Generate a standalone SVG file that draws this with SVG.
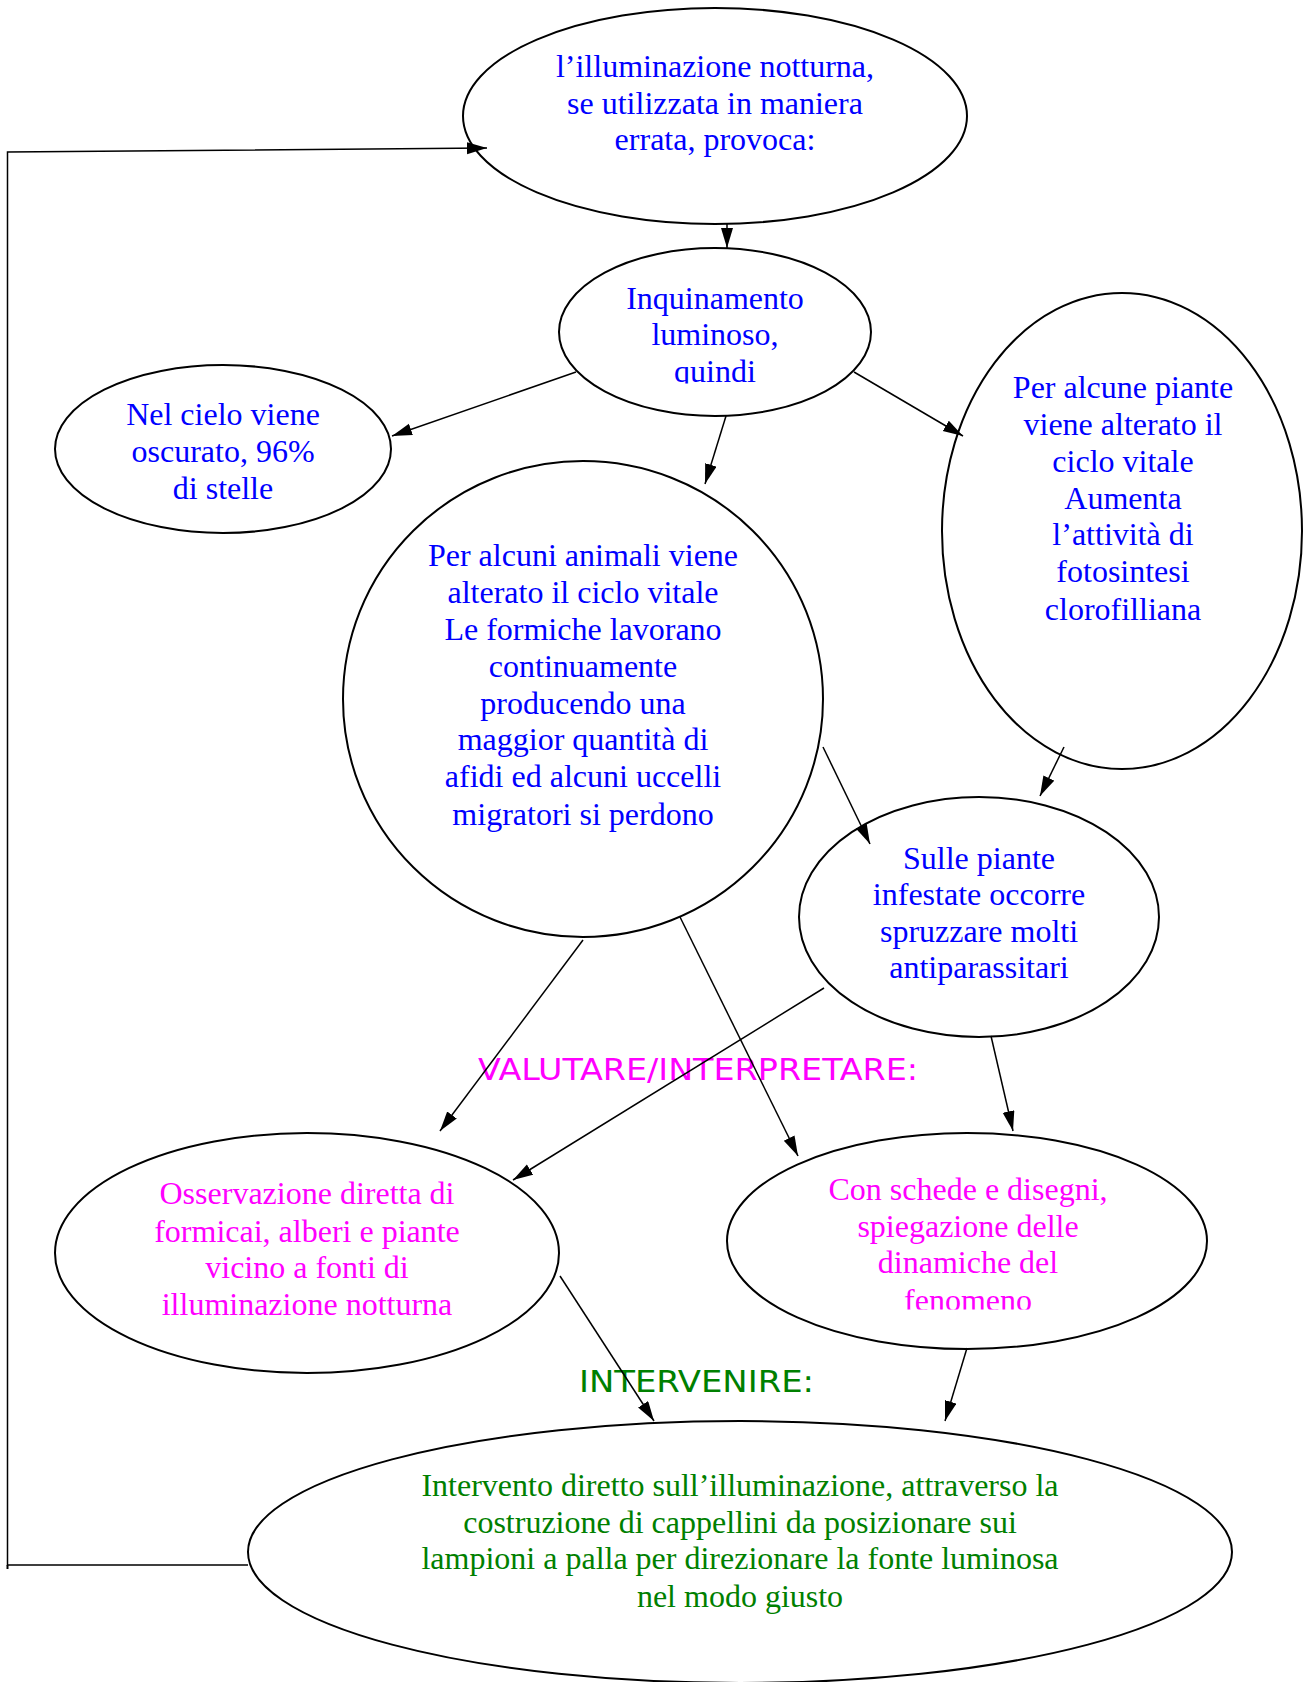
<svg xmlns="http://www.w3.org/2000/svg" width="1303" height="1682" viewBox="0 0 1303 1682">
<style>
.n{fill:#fff;stroke:#000;stroke-width:2}
.t{font-family:"Liberation Serif","Times New Roman",serif;font-size:32px;text-anchor:middle}
.b{fill:#0000ff}.m{fill:#ff00ff}.g{fill:#008000}
.c{stroke:#000;stroke-width:1.5;fill:none;marker-end:url(#ah)}
.h{font-family:"DejaVu Sans Condensed","DejaVu Sans",sans-serif;font-size:30px}
</style>
<defs>
<marker id="ah" markerUnits="userSpaceOnUse" markerWidth="22" markerHeight="14" refX="20" refY="6" orient="auto"><path d="M0,0 L20,6 L0,12 z" fill="#000"/></marker>
<clipPath id="cq"><rect x="560" y="250" width="312" height="133.5"/></clipPath>
<clipPath id="cf"><rect x="728" y="1135" width="480" height="174.5"/></clipPath>
</defs>
<g id="n1"><ellipse class="n" cx="715" cy="116" rx="252" ry="108"/>
<text class="t b"><tspan x="715" y="77">l’illuminazione notturna,</tspan><tspan x="715" y="113.5">se utilizzata in maniera</tspan><tspan x="715" y="150">errata,  provoca:</tspan></text></g>
<g id="n2"><ellipse class="n" cx="715" cy="332" rx="156" ry="84"/>
<text class="t b" clip-path="url(#cq)"><tspan x="715" y="309">Inquinamento</tspan><tspan x="715" y="345">luminoso,</tspan><tspan x="715" y="382">quindi</tspan></text></g>
<g id="n3"><ellipse class="n" cx="223" cy="449" rx="168" ry="84"/>
<text class="t b"><tspan x="223" y="425">Nel cielo viene</tspan><tspan x="223" y="462">oscurato, 96%</tspan><tspan x="223" y="499">di stelle</tspan></text></g>
<g id="n4"><ellipse class="n" cx="583" cy="699" rx="240" ry="238"/>
<text class="t b"><tspan x="583" y="566">Per alcuni animali viene</tspan><tspan x="583" y="603">alterato il ciclo vitale</tspan><tspan x="583" y="640">Le formiche lavorano</tspan><tspan x="583" y="676.5">continuamente</tspan><tspan x="583" y="713.5">producendo una</tspan><tspan x="583" y="750">maggior quantità di</tspan><tspan x="583" y="787">afidi ed alcuni uccelli</tspan><tspan x="583" y="824.5">migratori si perdono</tspan></text></g>
<g id="n5"><ellipse class="n" cx="1122" cy="531" rx="180" ry="238"/>
<text class="t b"><tspan x="1123" y="398">Per alcune piante</tspan><tspan x="1123" y="435">viene alterato il</tspan><tspan x="1123" y="472">ciclo vitale</tspan><tspan x="1123" y="509">Aumenta</tspan><tspan x="1123" y="545">l’attività di</tspan><tspan x="1123" y="582">fotosintesi</tspan><tspan x="1123" y="620">clorofilliana</tspan></text></g>
<g id="n6"><ellipse class="n" cx="979" cy="917" rx="180" ry="120"/>
<text class="t b"><tspan x="979" y="868.5">Sulle piante</tspan><tspan x="979" y="905">infestate occorre</tspan><tspan x="979" y="942">spruzzare molti</tspan><tspan x="979" y="978">antiparassitari</tspan></text></g>
<g id="n7"><ellipse class="n" cx="307" cy="1253" rx="252" ry="120"/>
<text class="t m"><tspan x="307" y="1204">Osservazione diretta di</tspan><tspan x="307" y="1241.5">formicai, alberi e piante</tspan><tspan x="307" y="1278">vicino a fonti di</tspan><tspan x="307" y="1315">illuminazione notturna</tspan></text></g>
<g id="n8"><ellipse class="n" cx="967" cy="1241" rx="240" ry="108"/>
<text class="t m" clip-path="url(#cf)"><tspan x="968" y="1200">Con schede e disegni,</tspan><tspan x="968" y="1237">spiegazione delle</tspan><tspan x="968" y="1273">dinamiche del</tspan><tspan x="968" y="1311">fenomeno</tspan></text></g>
<g id="n9"><ellipse class="n" cx="740" cy="1552" rx="492" ry="131"/>
<text class="t g"><tspan x="740" y="1496">Intervento diretto sull’illuminazione, attraverso la</tspan><tspan x="740" y="1533">costruzione di cappellini da posizionare sui</tspan><tspan x="740" y="1569">lampioni a palla per direzionare la fonte luminosa</tspan><tspan x="740" y="1606.5">nel modo giusto</tspan></text></g>
<g id="labels">
<text class="h m" x="478" y="1080" textLength="440" lengthAdjust="spacingAndGlyphs">VALUTARE/INTERPRETARE:</text>
<text class="h g" x="579" y="1392" textLength="235" lengthAdjust="spacingAndGlyphs">INTERVENIRE:</text>
</g>
<g id="connectors">
<line class="c" x1="727" y1="224" x2="727" y2="248"/>
<line class="c" x1="576" y1="372" x2="392" y2="436"/>
<line class="c" x1="726" y1="416" x2="705" y2="484"/>
<line class="c" x1="854" y1="372" x2="963" y2="436"/>
<line class="c" x1="1064" y1="747" x2="1040" y2="796"/>
<line class="c" x1="823" y1="747" x2="870" y2="844"/>
<line class="c" x1="583" y1="940" x2="440" y2="1131"/>
<line class="c" x1="680" y1="917" x2="798" y2="1156"/>
<line class="c" x1="824" y1="988" x2="513" y2="1180"/>
<line class="c" x1="991" y1="1036" x2="1013" y2="1131"/>
<line class="c" x1="560" y1="1276" x2="654" y2="1421"/>
<line class="c" x1="967" y1="1348" x2="945" y2="1421"/>
<polyline class="c" points="248,1565 7.5,1565 7.5,152 487,148" stroke-width="2"/>
<line x1="7.5" y1="1565" x2="7.5" y2="1569" stroke="#000" stroke-width="2"/>
</g>
</svg>
